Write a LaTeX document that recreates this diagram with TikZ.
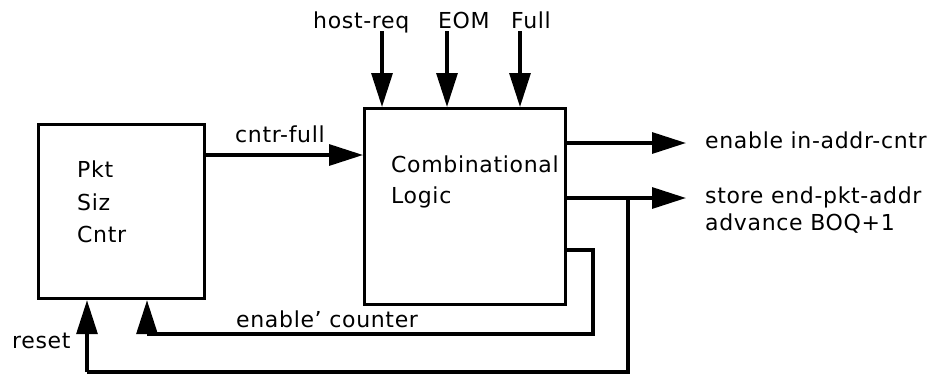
\documentclass[tikz,border=0pt]{standalone}
\usepackage{fontspec}
\setmainfont{DejaVu Sans}[LetterSpace=3]
\usetikzlibrary{arrows.meta}
\begin{document}
\begin{tikzpicture}[x=1pt,y=-1pt,
  wire/.style={line width=3.2pt},
  sig/.style={wire,-{Triangle[length=34pt,width=21pt]}},
  blk/.style={draw,line width=3.2pt,inner sep=0pt},
  lbl/.style={anchor=base west,inner sep=0pt,font=\fontsize{22}{26}\selectfont}]
\useasboundingbox (0,0) rectangle (942,375);
% blocks
\node[blk,minimum width=166pt,minimum height=174pt,anchor=north west] (psc) at (37,123) {};
\node[blk,minimum width=201pt,minimum height=196pt,anchor=north west] (cl) at (363,107) {};
% block texts
\node[lbl] (t1) at (77,177) {Pkt};
\node[lbl] (t2) at (77,210) {Siz};
\node[lbl] (t3) at (77,242) {Cntr};
\node[lbl] (t4) at (391,172) {Combinational};
\node[lbl] (t5) at (391,203) {Logic};
% inputs from the top
\coordinate (hr) at (382,31);
\coordinate (eo) at (447,31);
\coordinate (fu) at (520,31);
\node[lbl] (lhr) at (313,28) {host-req};
\node[lbl] (leo) at (438,28) {EOM};
\node[lbl] (lfu) at (511,28) {Full};
\draw[sig] (hr) -- (hr |- cl.north);
\draw[sig] (eo) -- (eo |- cl.north);
\draw[sig] (fu) -- (fu |- cl.north);
% counter full
\draw[sig] (psc.east |- 0,155) -- (cl.west |- 0,155);
\node[lbl] (lcf) at (235,142) {cntr-full};
% outputs
\coordinate (o1) at (686,143);
\coordinate (o2) at (686,198);
\draw[sig] (cl.east |- o1) -- (o1);
\draw[sig] (cl.east |- o2) -- (o2);
\node[lbl] (lo1) at (705,148) {enable in-addr-cntr};
\node[lbl] (lo2) at (705,203) {store end-pkt-addr};
\node[lbl] (lo3) at (705,230) {advance BOQ+1};
% enable counter loop
\coordinate (e1) at (593,250);
\coordinate (e2) at (593,334);
\coordinate (e3) at (147,334);
\draw[wire] (cl.east |- e1) -- (e1) -- (e2) -- (e3);
\draw[sig] (e3) -- (e3 |- psc.south);
\node[lbl] (lec) at (236,327) {enable\textquoteright\ counter};
% reset loop
\coordinate (r1) at (628,198);
\coordinate (r2) at (628,372);
\coordinate (r3) at (87,372);
\draw[wire] (r1) -- (r2) -- (r3);
\draw[sig] (r3) -- (r3 |- psc.south);
\node[lbl] (lrs) at (12,348) {reset};
\end{tikzpicture}
\end{document}
